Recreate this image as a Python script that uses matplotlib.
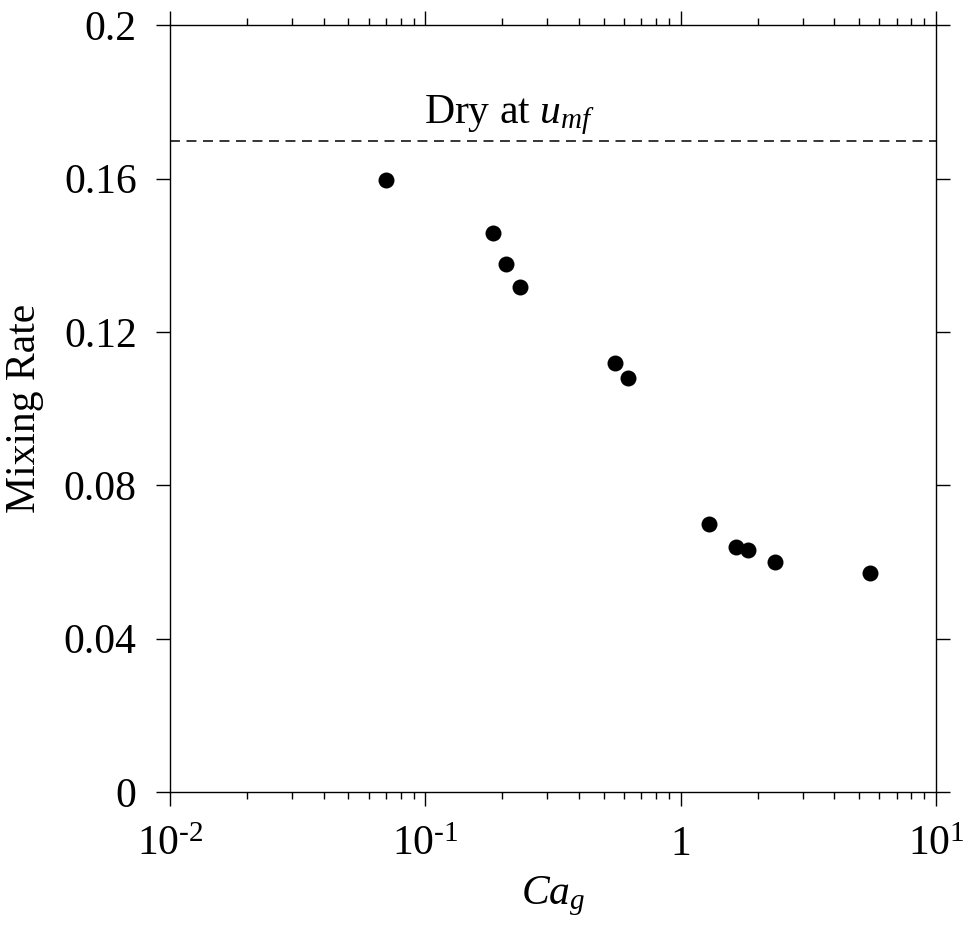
import numpy as np
import matplotlib
matplotlib.use('Agg')
import matplotlib.pyplot as plt
from matplotlib.ticker import FixedLocator, FixedFormatter, LogLocator, NullFormatter

plt.rcParams['font.family'] = ['Liberation Serif', 'DejaVu Serif']
plt.rcParams['mathtext.fontset'] = 'custom'
plt.rcParams['mathtext.rm'] = 'Liberation Serif'
plt.rcParams['mathtext.it'] = 'Liberation Serif:italic'
plt.rcParams['mathtext.bf'] = 'Liberation Serif:bold'

# data
ca_g = [0.0702, 0.184, 0.206, 0.235, 0.553, 0.621, 1.29, 1.64, 1.84, 2.34, 5.52]
mixing_rate = [0.1597, 0.1458, 0.1378, 0.1318, 0.1119, 0.1079, 0.0700, 0.0640, 0.0630, 0.0600, 0.0570]
dry_rate = 0.1698

xticks = [0.01, 0.1, 1, 10]
xtick_labels = [r'$10^{\text{-}2}$', r'$10^{\text{-}1}$', '1', r'$10^{1}$']
yticks = [0, 0.04, 0.08, 0.12, 0.16, 0.2]
ytick_labels = ['0', '0.04', '0.08', '0.12', '0.16', '0.2']

fig = plt.figure(figsize=(9.66, 9.25), dpi=100)
ax = fig.add_axes([0.176, 0.1438, 0.793, 0.829])

ax.plot(ca_g, mixing_rate, 'o', color='black', markersize=11.5, markeredgewidth=0)
ax.axhline(dry_rate, color='black', lw=1.1, linestyle=(0, (6.5, 4.3)))
ax.text(0.213, 0.1745, r'Dry at $u_{mf}$', ha='center', va='baseline', fontsize=30)

ax.set_xscale('log')
ax.set_xlim(0.01, 10)
ax.set_ylim(0, 0.2)

ax.xaxis.set_major_locator(FixedLocator(xticks))
ax.xaxis.set_major_formatter(FixedFormatter(xtick_labels))
ax.xaxis.set_minor_locator(LogLocator(base=10, subs=np.arange(2, 10)))
ax.xaxis.set_minor_formatter(NullFormatter())
ax.yaxis.set_major_locator(FixedLocator(yticks))
ax.yaxis.set_major_formatter(FixedFormatter(ytick_labels))

ax.tick_params(which='both', direction='out', top=True, right=True, width=1, colors='black')
ax.tick_params(which='major', length=10, labelsize=30)
ax.tick_params(which='minor', length=5)
ax.tick_params(axis='y', pad=14)
ax.tick_params(axis='x', pad=14)

for s in ax.spines.values():
    s.set_linewidth(1)

ax.set_xlabel(r'$Ca_g$', fontsize=30, labelpad=8)
ax.set_ylabel('Mixing Rate', fontsize=30, labelpad=14)

fig.savefig('out.png', dpi=100)
